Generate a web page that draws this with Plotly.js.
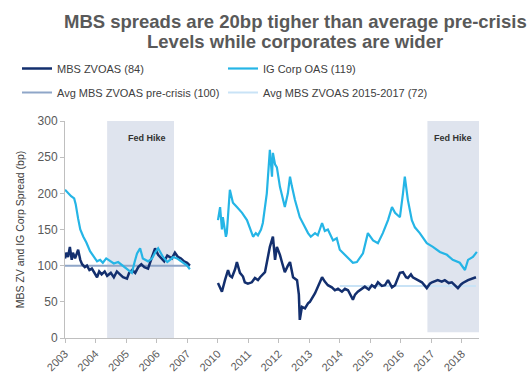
<!DOCTYPE html>
<html>
<head>
<meta charset="utf-8">
<script src="https://cdn.plot.ly/plotly-3.0.1.min.js"></script>
<style>
  html, body { margin: 0; padding: 0; background: #fff; }
  #chart { width: 531px; height: 388px; }
</style>
</head>
<body>
<div id="chart"></div>
<script>
// Tick labels on the compressed time axis (2008-2009 are cut out)
const tickLabels = ['2003', '2004', '2005', '2006', '2007', '2010', '2011', '2012',
                    '2013', '2014', '2015', '2016', '2017', '2018'];

// IG Corp OAS (bp), decimal-year dates; null marks the 2007-2010 break
const igDates = [
  2003.00, 2003.10, 2003.20, 2003.30, 2003.35, 2003.43, 2003.50, 2003.60, 2003.70, 2003.82,
  2003.95, 2004.05, 2004.15, 2004.24, 2004.35, 2004.47, 2004.60, 2004.74, 2004.90, 2005.03,
  2005.19, 2005.28, 2005.36, 2005.46, 2005.55, 2005.72, 2005.85, 2005.95, 2006.05, 2006.21,
  2006.35, 2006.44, 2006.55, 2006.67, 2006.80, 2006.90, 2007.00, 2007.09,
  null,
  2010.01, 2010.08, 2010.14, 2010.17, 2010.27, 2010.30, 2010.40, 2010.47, 2010.50, 2010.63,
  2010.80, 2010.96, 2011.06, 2011.16, 2011.25, 2011.32, 2011.42, 2011.48, 2011.61, 2011.71,
  2011.78, 2011.81, 2011.88, 2011.94, 2012.04, 2012.20, 2012.30, 2012.37, 2012.43, 2012.53,
  2012.69, 2012.86, 2012.96, 2013.05, 2013.19, 2013.28, 2013.42, 2013.51, 2013.61, 2013.78,
  2013.90, 2014.00, 2014.23, 2014.43, 2014.56, 2014.76, 2014.92, 2015.09, 2015.25, 2015.41,
  2015.58, 2015.71, 2015.81, 2015.97, 2016.07, 2016.13, 2016.23, 2016.36, 2016.46, 2016.62,
  2016.85, 2017.05, 2017.28, 2017.51, 2017.70, 2017.93, 2018.10, 2018.20, 2018.36, 2018.49
];
const igSpread = [
  205, 200, 196, 193, 185, 165, 150, 140, 132, 120,
  112, 106, 108, 104, 110, 107, 103, 105, 100, 96,
  90, 105, 117, 124, 110, 106, 110, 118, 124, 112,
  105, 108, 112, 110, 106, 102, 100, 95,
  null,
  163, 181, 150, 167, 140, 145, 205, 190, 187, 181,
  173, 163, 150, 140, 145, 142, 150, 159, 200, 260,
  223, 256, 240, 236, 209, 181, 200, 223, 210, 191,
  167, 153, 145, 140, 145, 142, 159, 148, 150, 135,
  138, 122, 112, 104, 105, 117, 145, 135, 131, 145,
  163, 181, 173, 167, 200, 223, 191, 163, 153, 145,
  131, 126, 119, 115, 108, 104, 94, 108, 112, 119
];

// MBS ZVOAS (bp)
const mbsDates = [
  2003.00, 2003.05, 2003.10, 2003.16, 2003.22, 2003.26, 2003.33, 2003.43, 2003.50, 2003.56,
  2003.65, 2003.72, 2003.80, 2003.88, 2004.05, 2004.12, 2004.20, 2004.30, 2004.38, 2004.50,
  2004.60, 2004.70, 2004.80, 2004.90, 2005.03, 2005.10, 2005.20, 2005.30, 2005.40, 2005.50,
  2005.60, 2005.72, 2005.85, 2005.95, 2006.05, 2006.15, 2006.25, 2006.35, 2006.50, 2006.60,
  2006.70, 2006.80, 2006.90, 2007.00, 2007.09,
  null,
  2010.01, 2010.08, 2010.14, 2010.24, 2010.34, 2010.40, 2010.47, 2010.57, 2010.63, 2010.73,
  2010.83, 2010.89, 2010.99, 2011.12, 2011.22, 2011.32, 2011.39, 2011.55, 2011.65, 2011.71,
  2011.81, 2011.88, 2011.94, 2012.04, 2012.11, 2012.20, 2012.30, 2012.37, 2012.47, 2012.60,
  2012.66, 2012.69, 2012.76, 2012.86, 2012.96, 2013.02, 2013.19, 2013.32, 2013.42, 2013.51,
  2013.61, 2013.74, 2013.84, 2013.94, 2014.07, 2014.17, 2014.27, 2014.43, 2014.50, 2014.59,
  2014.72, 2014.82, 2014.95, 2015.05, 2015.15, 2015.25, 2015.38, 2015.48, 2015.58, 2015.71,
  2015.81, 2015.97, 2016.07, 2016.17, 2016.23, 2016.33, 2016.39, 2016.56, 2016.69, 2016.79,
  2016.85, 2016.95, 2017.02, 2017.21, 2017.34, 2017.44, 2017.57, 2017.67, 2017.80, 2017.87,
  2017.97, 2018.03, 2018.20, 2018.36, 2018.46
];
const mbsSpread = [
  110, 118, 112, 126, 108, 118, 110, 122, 108, 102,
  98, 100, 94, 96, 84, 92, 88, 92, 86, 90,
  84, 92, 88, 84, 82, 90, 94, 90, 98, 102,
  98, 96, 112, 124, 115, 110, 106, 114, 110, 118,
  112, 110, 106, 104, 100,
  null,
  76, 70, 64, 80, 94, 86, 84, 95, 105, 90,
  85, 77, 75, 77, 83, 80, 84, 91, 110, 126,
  140, 108, 126, 115, 104, 91, 100, 105, 84, 80,
  60, 25, 43, 41, 48, 50, 62, 75, 84, 78,
  73, 70, 66, 68, 64, 68, 66, 53, 60, 64,
  68, 71, 67, 73, 70, 77, 72, 73, 80, 70,
  73, 90, 91, 84, 83, 88, 84, 80, 77, 72,
  69, 75, 77, 80, 78, 80, 76, 77, 72, 69,
  74, 76, 80, 83, 84
];

// Reference averages (bp) and the periods they are drawn over
const avgPreCrisis = 100;
const avgPreCrisisDates = [2003.00, 2007.09];
const avgRecent = 72;
const avgRecentDates = [2014.00, 2018.46];

// Fed hiking cycles [start, end]
const fedHikes = [[2004.38, 2006.57], [2016.87, 2018.56]];
const fedHikeLabelDates = [2005.69, 2017.70];

// Chart heading, two lines
const titleLines = ['MBS spreads are 20bp tigher than average pre-crisis',
                    'Levels while corporates are wider'];

// Map a decimal year onto the broken axis (2007 and 2010 are adjacent ticks)
function toAxis(yr) {
  if (yr === null) return null;
  return yr < 2008 ? yr - 2003 : yr - 2005;
}

const font = 'Liberation Sans, Arial, sans-serif';

// Plot area in page pixels (fixed margins), used to place the heading rows
const W = 531, H = 388;
const M = { l: 65, r: 52, t: 121, b: 50 };
const plotW = W - M.l - M.r, plotH = H - M.t - M.b;
const paperX = px => (px - M.l) / plotW;
const paperY = py => (H - M.b - py) / plotH;

const traces = [
  {
    name: 'Avg MBS ZVOAS pre-crisis (100)',
    x: avgPreCrisisDates.map(toAxis),
    y: avgPreCrisisDates.map(() => avgPreCrisis),
    mode: 'lines', line: { color: '#8fa6c8', width: 2 },
    legend: 'legend2', hoverinfo: 'skip'
  },
  {
    name: 'Avg MBS ZVOAS 2015-2017 (72)',
    x: avgRecentDates.map(toAxis),
    y: avgRecentDates.map(() => avgRecent),
    mode: 'lines', line: { color: '#c9e3f6', width: 2 },
    legend: 'legend2', hoverinfo: 'skip'
  },
  {
    name: 'MBS ZVOAS (84)',
    x: mbsDates.map(toAxis), y: mbsSpread,
    mode: 'lines', line: { color: '#132f6e', width: 2.5 },
    connectgaps: false, legend: 'legend'
  },
  {
    name: 'IG Corp OAS (119)',
    x: igDates.map(toAxis), y: igSpread,
    mode: 'lines', line: { color: '#25b5e6', width: 2.2 },
    connectgaps: false, legend: 'legend'
  }
];

const shapes = fedHikes.map(([a, b], i) => ({
  type: 'rect', layer: 'below', xref: 'x', yref: 'y',
  x0: toAxis(a), x1: toAxis(b), y0: i === 0 ? 0 : 8, y1: 300,
  fillcolor: '#dfe4ee', line: { width: 0 }
}));

const fedLabels = fedHikeLabelDates.map(d => ({
  x: toAxis(d), y: 277, xref: 'x', yref: 'y',
  text: '<b>Fed Hike</b>', showarrow: false,
  font: { family: font, size: 9, color: '#333333' }
}));

// heading lines sit above the plot area, centred over the chart
const headingRows = [21, 42];
const heading = titleLines.map((t, i) => ({
  x: paperX(295), xref: 'paper', xanchor: 'center',
  y: paperY(headingRows[i]), yref: 'paper', yanchor: 'middle',
  text: '<b>' + t + '</b>', showarrow: false,
  font: { family: font, size: 18.5, color: '#595959' }
}));

const legendCommon = {
  orientation: 'h', xref: 'container', yref: 'container',
  xanchor: 'left', yanchor: 'top',
  font: { family: font, size: 11, color: '#404040' },
  bgcolor: 'rgba(0,0,0,0)', itemwidth: 30,
  entrywidth: 161, entrywidthmode: 'pixels', traceorder: 'normal'
};

const layout = {
  width: W, height: H,
  margin: Object.assign({ autoexpand: false }, M),
  paper_bgcolor: '#ffffff', plot_bgcolor: '#ffffff',
  showlegend: true,
  legend: Object.assign({}, legendCommon, { x: 17 / W, y: 1 - 54 / H }),
  legend2: Object.assign({}, legendCommon, { x: 17 / W, y: 1 - 78 / H }),
  xaxis: {
    range: [0, 13.56], tickmode: 'array',
    tickvals: tickLabels.map((_, i) => i), ticktext: tickLabels,
    tickangle: -45, ticks: 'outside', ticklen: 4, tickcolor: '#bfbfbf',
    showline: true, linecolor: '#bfbfbf', linewidth: 1,
    showgrid: false, zeroline: false,
    tickfont: { family: font, size: 11, color: '#595959' }
  },
  yaxis: {
    range: [0, 300], tickvals: [0, 50, 100, 150, 200, 250, 300],
    ticks: 'outside', ticklen: 4, tickcolor: '#bfbfbf',
    showline: true, linecolor: '#bfbfbf', linewidth: 1,
    showgrid: false, zeroline: false,
    tickfont: { family: font, size: 12, color: '#595959' },
    title: { text: 'MBS ZV and IG Corp Spread (bp)', standoff: 10,
             font: { family: font, size: 10.5, color: '#404040' } }
  },
  shapes: shapes,
  annotations: fedLabels.concat(heading)
};

Plotly.newPlot('chart', traces, layout, { displayModeBar: false, staticPlot: true });
</script>
</body>
</html>
